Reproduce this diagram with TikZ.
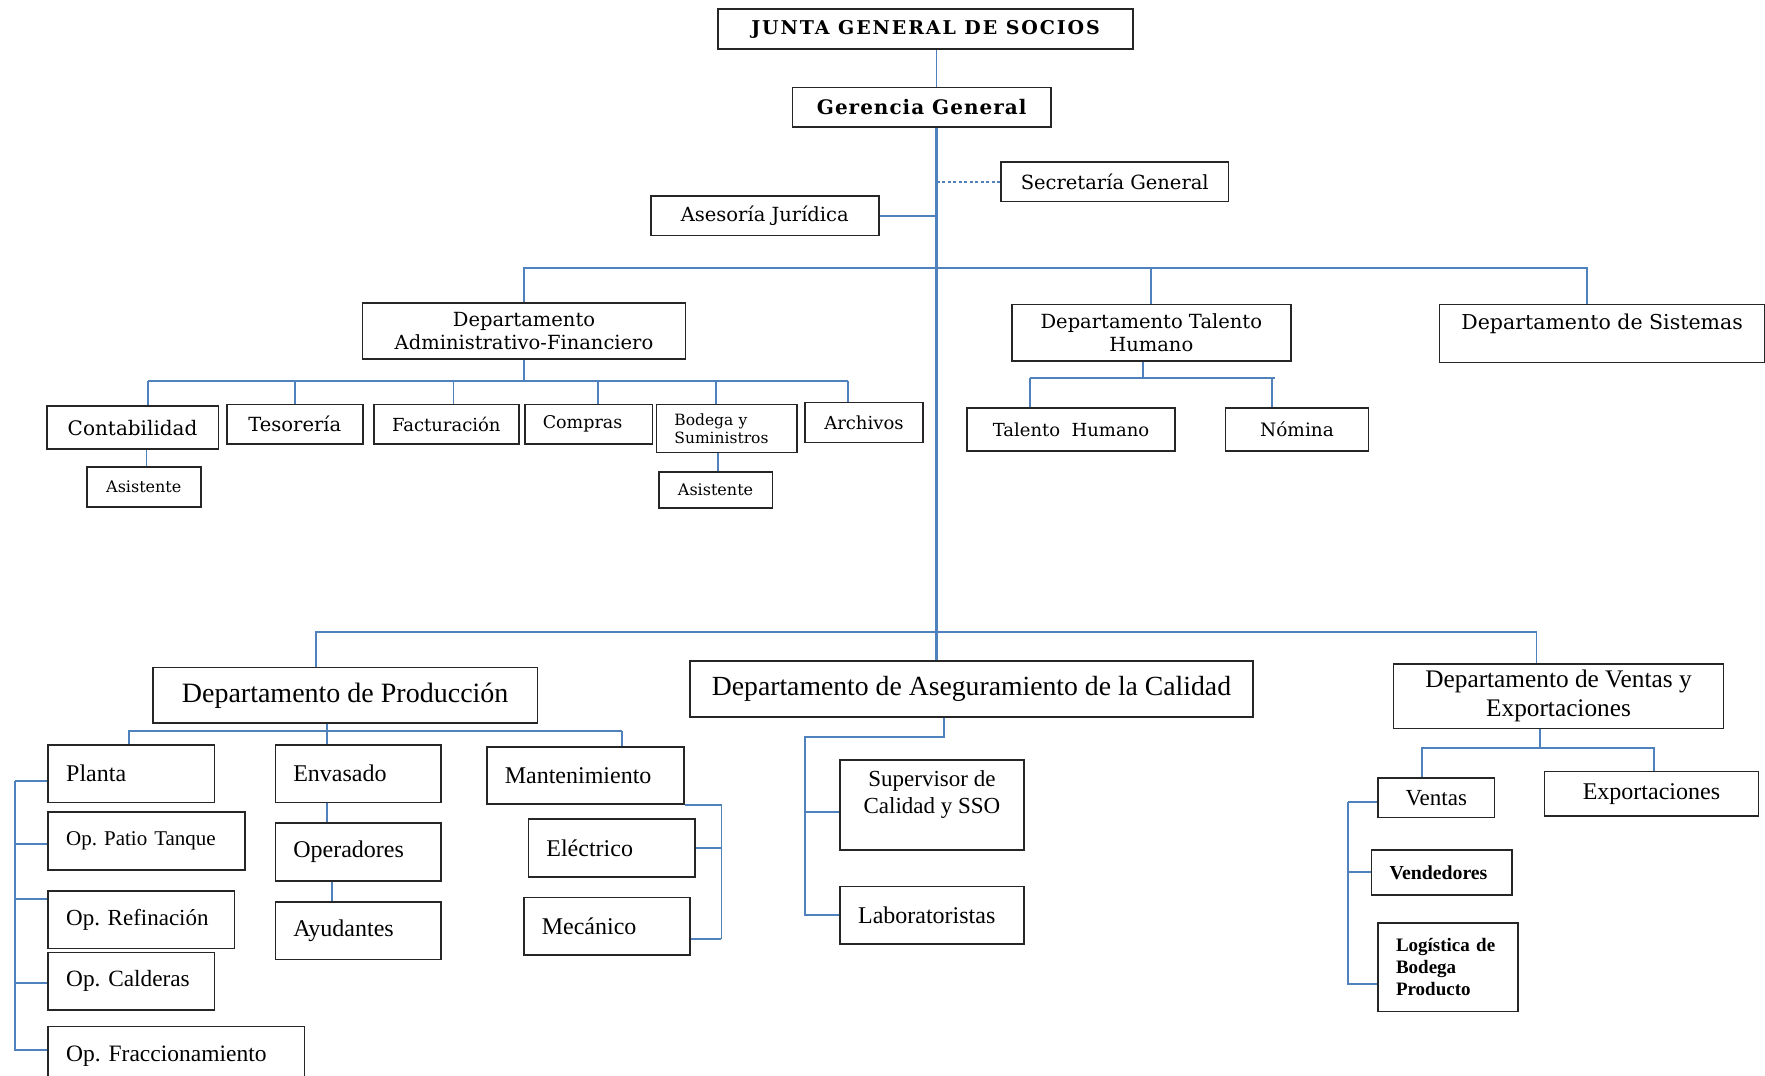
\documentclass[tikz,border=0pt]{standalone}
\usepackage{fontspec}
\setmainfont{Liberation Serif}
\newfontfamily\topf{DejaVu Serif}
\definecolor{lineblue}{RGB}{79,129,189}
\newcommand{\fsz}[1]{\fontsize{#1}{\fpeval{1.15*#1}}\selectfont}
\frenchspacing
\begin{document}
\begin{tikzpicture}[x=1pt,y=-1pt,
  box/.style={draw=black!85,line width=1.6pt,anchor=north west,inner xsep=4pt,inner ysep=2pt,align=center},
  top/.style={box,font=\topf\fsz{#1}},
  topb/.style 2 args={box,font=\topf\bfseries\fsz{#1}\addfontfeatures{LetterSpace=#2}},
  bot/.style={box,font=\fsz{#1}},
  botb/.style={box,font=\bfseries\fsz{#1}},
  wh/.style 2 args={minimum width=#1pt,minimum height=#2pt},
  lw/.style 2 args={text width=#1pt,minimum height=#2pt,align=left,inner xsep=18pt},
  conn/.style={draw=lineblue,line width=1.8pt},
  trunk/.style={draw=lineblue,line width=3.5pt}]
\path[use as bounding box,fill=white] (0,0) rectangle (1765,1076);
\node[topb={19}{10},wh={415}{40}] at (717.3,8.3) (jg) {JUNTA GENERAL DE SOCIOS};
\node[topb={20}{5},wh={258.3}{39.3}] at (791.7,86.7) (gg) {Gerencia General};
\node[top=19.5,wh={228}{39.7}] at (650,195) (aj) {Asesoría Jurídica};
\node[top=19.5,wh={227.5}{39.4}] at (1000.2,161.3) (sg) {Secretaría General};
\node[top=19.5,wh={323}{56}] at (361.7,302.3) (daf) {Departamento\\Administrativo-Financiero};
\node[top=19.5,wh={279}{56.3}] at (1011,303.7) (dth) {Departamento Talento\\Humano};
\node[top=20.5,wh={325}{58}] at (1438.8,303.7) (ds) {Departamento de Sistemas\\~};
\node[top=20,wh={171.6}{43}] at (46,405.3) (co) {Contabilidad};
\node[top=19.5,wh={136}{39.6}] at (226,403.7) (te) {Tesorería};
\node[top=18,wh={145}{39.6}] at (373,403.7) (fa) {Facturación};
\node[top=17.5,lw={91.6}{39.6},inner xsep=18pt] at (524,403.7) (cm) {Compras};
\node[top=15.5,lw={104.4}{48}] at (655.6,403.7) (bs) {Bodega y\\Suministros};
\node[top=18,wh={118.3}{40}] at (804,401.7) (ar) {Archivos};
\node[top=16,wh={114}{40}] at (86,466) (a1) {Asistente};
\node[top=16,wh={113.5}{36.3}] at (658,471) (a2) {Asistente};
\node[top=18,wh={207.6}{43}] at (966.4,407) (th) {Talento~ Humano};
\node[top=18.5,wh={142.8}{43}] at (1224.8,407) (nm) {Nómina};
\node[bot=28,wh={384.7}{55.6}] at (152,666.7) (pd) {Departamento de Producción};
\node[bot=27.7,wh={563.3}{56}] at (689,660) (aq) {Departamento de Aseguramiento de la Calidad};
\node[bot=25.3,wh={330}{64.4}] at (1392.7,663.3) (dv) {Departamento de Ventas y\\Exportaciones};
\node[bot=24,lw={130.4}{57.7}] at (47.4,744) (pl) {Planta};
\node[bot=21,lw={161}{58}] at (47.4,811) (opt) {Op. Patio Tanque};
\node[bot=23,lw={150.3}{57.7}] at (47.4,890) (opr) {Op. Refinación};
\node[bot=23.3,lw={130.4}{57.6}] at (47.4,951.7) (opc) {Op. Calderas};
\node[bot=23.5,lw={220.2}{60}] at (47.4,1025.7) (opf) {Op. Fraccionamiento};
\node[bot=24,lw={129.8}{57.7}] at (274.5,744) (en) {Envasado};
\node[bot=24,lw={129.8}{57.7}] at (274.5,822.3) (ope) {Operadores};
\node[bot=24,lw={129.8}{57.7}] at (274.5,901) (ay) {Ayudantes};
\node[bot=24,lw={161}{57.3}] at (486,746) (mt) {Mantenimiento};
\node[bot=24,lw={130.3}{57.7}] at (527.6,818.3) (el) {Eléctrico};
\node[bot=24,lw={130.3}{57.6}] at (523,896.7) (me) {Mecánico};
\node[bot=23,wh={183.7}{90}] at (839.3,759.3) (su) {Supervisor de\\Calidad y SSO\\~};
\node[bot=24,lw={147.7}{57.6}] at (839.3,885.7) (la) {Laboratoristas};
\node[bot=23,wh={116.5}{39.7}] at (1377.2,777) (ve) {Ventas};
\node[bot=24,wh={214.3}{44.3}] at (1543.5,770.7) (ex) {Exportaciones};
\node[botb=19.8,lw={104.5}{44.7}] at (1370.7,849.3) (vd) {Vendedores};
\node[botb=19,lw={103.8}{88.7}] at (1377.2,922) (lg) {Logística de\\Bodega\\Producto};
\coordinate (t) at (936.5,0);
\draw[conn] (jg.south -| t) -- (gg.north -| t);
\draw[conn] (aj.east) -- (aj.east -| t);
\draw[lineblue,line width=2.5pt,dash pattern=on 3pt off 2.5pt] (sg.west) -- (sg.west -| t);
\coordinate (ba) at (0,268.3);
\draw[conn] (daf.north) |- (1586.6,268.3) -- (1586.6,0 |- ds.north);
\draw[conn] (dth.north) -- (dth.north |- ba);
\coordinate (bl) at (148,381); \coordinate (br) at (848,381);
\draw[conn] (daf.south) -- (daf.south |- bl); \draw[conn] (bl) -- (br);
\foreach \n/\x in {co/148,te/295,fa/453.5,cm/598,bs/716,ar/848}
  \draw[conn] (\x,381) -- (\x,0 |- \n.north);
\draw[conn] (146.4,0 |- co.south) -- (146.4,0 |- a1.north);
\draw[conn] (717.6,0 |- bs.south) -- (717.6,0 |- a2.north);
\coordinate (hl) at (1029.6,378.3); \coordinate (hr) at (1275,378.3);
\draw[conn] (1143,0 |- dth.south) -- (1143,378.3); \draw[conn] (hl) -- (hr);
\draw[conn] (hl) -- (1029.6,0 |- th.north); \draw[conn] (1272.3,378.3) -- (1272.3,0 |- nm.north);
\coordinate (cl) at (316.3,632.3); \coordinate (cr) at (1536.4,632.3);
\draw[conn] (316.3,0 |- pd.north) -- (cl) -- (cr) -- (1536.4,0 |- dv.north);
\coordinate (pl1) at (127.6,730.7); \coordinate (pl2) at (622,730.7);
\draw[conn] (pl1) -- (pl2); \draw[conn] (128.6,730.7) -- (128.6,0 |- pl.north); \draw[conn] (pl2) -- (622,0 |- mt.north);
\draw[conn] (327,0 |- pd.south) -- (327,0 |- en.north);
\draw[conn] (327,0 |- en.south) -- (327,0 |- ope.north);
\draw[conn] (332,0 |- ope.south) -- (332,0 |- ay.north);
\coordinate (lk) at (15.3,781.3);
\foreach \n/\y in {pl/781.3,opt/844.3,opr/899.3,opc/982.7,opf/1050}
  \draw[conn] (\n.west |- 0,\y) -| (lk);
\coordinate (rk) at (721.4,939);
\draw[conn] (mt.south east) -| (rk); \draw[conn] (el.east) -| (rk); \draw[conn] (me.east |- rk) -- (rk);
\coordinate (ak) at (805,736.7);
\draw[conn] (944.2,0 |- aq.south) |- (ak) |- (la.west); \draw[conn] (ak) |- (su.west |- 0,811.7);
\coordinate (vk) at (1539.6,747.7);
\draw[conn] (1539.6,0 |- dv.south) -- (vk);
\draw[conn] (1421.8,0 |- ve.north) |- (vk) -| (1654.2,0 |- ex.north);
\coordinate (vb) at (1348,801.7);
\foreach \n/\y in {ve/801.7,vd/871.7,lg/984.3}
  \draw[conn] (\n.west |- 0,\y) -| (vb);
\draw[trunk] (gg.south -| t) -- (aq.north -| t);
\end{tikzpicture}
\end{document}
